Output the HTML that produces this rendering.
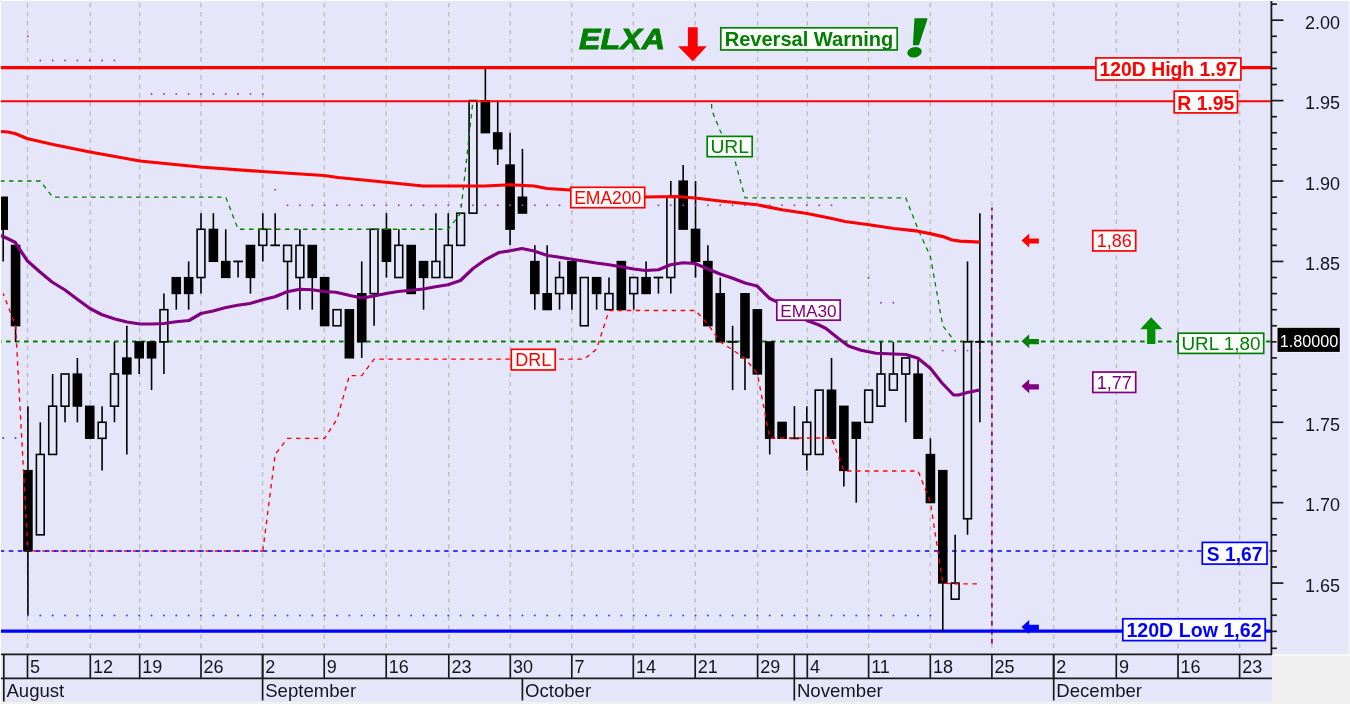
<!DOCTYPE html>
<html lang="en"><head><meta charset="utf-8"><title>ELXA chart</title>
<style>
html,body{margin:0;padding:0;background:#f0f0f0;}
body{width:1350px;height:704px;overflow:hidden;}
svg{display:block;font-family:"Liberation Sans",sans-serif;}
</style></head><body>
<svg width="1350" height="704" viewBox="0 0 1350 704">
<rect x="0" y="0" width="1350" height="704" fill="#f0f0f0"/>
<rect x="1" y="1" width="1347" height="701" fill="#e6e6fa"/>
<rect x="1272" y="654.5" width="78" height="50" fill="#f0f0f0"/>
<rect x="1272" y="654.3" width="78" height="1.6" fill="#fbfbfb"/>
<g stroke="#c0c0c0" stroke-width="1.5" stroke-dasharray="4.6 4.42" fill="none">
<path d="M27.5 2.9V652"/>
<path d="M90.3 2.9V652"/>
<path d="M139.7 2.9V652"/>
<path d="M201 2.9V652"/>
<path d="M262.6 2.9V652"/>
<path d="M324.2 2.9V652"/>
<path d="M386.2 2.9V652"/>
<path d="M448.8 2.9V652"/>
<path d="M510.3 2.9V652"/>
<path d="M571.8 2.9V652"/>
<path d="M633.3 2.9V652"/>
<path d="M695.2 2.9V652"/>
<path d="M757.6 2.9V652"/>
<path d="M807.3 2.9V652"/>
<path d="M868.6 2.9V652"/>
<path d="M930.3 2.9V652"/>
<path d="M991.9 2.9V652"/>
<path d="M1053.6 2.9V652"/>
<path d="M1116.3 2.9V652"/>
<path d="M1178 2.9V652"/>
<path d="M1239.6 2.9V652"/>
</g>
<path d="M991.9 207.4V646" stroke="#8c148c" stroke-width="1.9" stroke-dasharray="4.6 4.42" stroke-dashoffset="1.5"/>
<path d="M24.1 551H262.82" fill="none" stroke="#ff0000" stroke-width="1.6" stroke-dasharray="4.535 4.535"/>
<path d="M0 551H1271" stroke="#0000ff" stroke-width="1.6" stroke-dasharray="4.535 4.535" stroke-dashoffset="0.3"/>
<path d="M0 631.2H1271" stroke="#0000ff" stroke-width="3.2"/>
<path d="M0 341.6H1271" stroke="#008000" stroke-width="2" stroke-dasharray="4.6 4.4" stroke-dashoffset="3"/>
<g stroke="#000" stroke-width="1.6" fill="none">
<path d="M3.2 197.11V261.44"/>
<path d="M15.56 245.35V341.85"/>
<path d="M27.93 406.18V615.25"/>
<path d="M40.29 422.26V534.84"/>
<path d="M52.65 374.01V454.43"/>
<path d="M65.02 374.01V422.26"/>
<path d="M77.38 357.93V422.26"/>
<path d="M89.74 406.18V438.34"/>
<path d="M102.1 406.18V470.51"/>
<path d="M114.47 341.85V422.26"/>
<path d="M126.83 325.77V454.43"/>
<path d="M139.19 341.85V374.01"/>
<path d="M151.56 341.85V390.1"/>
<path d="M163.92 293.6V374.01"/>
<path d="M176.28 277.52V309.69"/>
<path d="M188.64 261.44V309.69"/>
<path d="M201.01 213.19V293.6"/>
<path d="M213.37 213.19V261.44"/>
<path d="M225.73 229.27V277.52"/>
<path d="M238.1 261.44V277.52"/>
<path d="M250.46 245.35V293.6"/>
<path d="M262.82 213.19V261.44"/>
<path d="M275.19 213.19V245.35"/>
<path d="M287.55 245.35V309.69"/>
<path d="M299.91 229.27V309.69"/>
<path d="M312.27 245.35V309.69"/>
<path d="M324.64 277.52V325.77"/>
<path d="M337 309.69V325.77"/>
<path d="M349.36 309.69V357.93"/>
<path d="M361.73 261.44V357.93"/>
<path d="M374.09 229.27V325.77"/>
<path d="M386.45 213.19V277.52"/>
<path d="M398.82 229.27V277.52"/>
<path d="M411.18 245.35V293.6"/>
<path d="M423.54 261.44V309.69"/>
<path d="M435.9 213.19V277.52"/>
<path d="M448.27 213.19V277.52"/>
<path d="M460.63 213.19V245.35"/>
<path d="M472.99 100.61V213.19"/>
<path d="M485.36 68.45V132.78"/>
<path d="M497.72 100.61V164.94"/>
<path d="M510.08 132.78V245.35"/>
<path d="M522.45 148.86V213.19"/>
<path d="M534.81 245.35V309.69"/>
<path d="M547.17 245.35V309.69"/>
<path d="M559.54 261.44V309.69"/>
<path d="M571.9 261.44V309.69"/>
<path d="M584.26 277.52V325.77"/>
<path d="M596.62 277.52V309.69"/>
<path d="M608.99 277.52V309.69"/>
<path d="M621.35 261.44V309.69"/>
<path d="M633.71 277.52V309.69"/>
<path d="M646.08 261.44V293.6"/>
<path d="M658.44 277.52V293.6"/>
<path d="M670.8 181.02V293.6"/>
<path d="M683.16 164.94V229.27"/>
<path d="M695.53 181.02V277.52"/>
<path d="M707.89 245.35V325.77"/>
<path d="M720.25 277.52V341.85"/>
<path d="M732.62 325.77V390.1"/>
<path d="M744.98 293.6V390.1"/>
<path d="M757.34 309.69V374.01"/>
<path d="M769.71 341.85V454.43"/>
<path d="M782.07 422.26V438.34"/>
<path d="M794.43 406.18V438.34"/>
<path d="M806.8 406.18V470.51"/>
<path d="M819.16 390.1V454.43"/>
<path d="M831.52 357.93V438.34"/>
<path d="M843.88 406.18V486.59"/>
<path d="M856.25 422.26V502.67"/>
<path d="M868.61 390.1V422.26"/>
<path d="M880.97 341.85V406.18"/>
<path d="M893.34 341.85V390.1"/>
<path d="M905.7 357.93V422.26"/>
<path d="M918.06 357.93V438.34"/>
<path d="M930.42 438.34V502.67"/>
<path d="M942.79 470.51V631.34"/>
<path d="M955.15 534.84V599.17"/>
<path d="M967.51 261.44V534.84"/>
<path d="M979.88 213.19V422.26"/>
</g>
<rect x="-1.6" y="196.51" width="9.6" height="33.36" fill="#000"/>
<rect x="10.76" y="244.75" width="9.6" height="81.61" fill="#000"/>
<rect x="23.13" y="469.91" width="9.6" height="81.61" fill="#000"/>
<rect x="36.39" y="454.43" width="7.8" height="80.41" fill="#e6e6fa" stroke="#000" stroke-width="1.6"/>
<rect x="48.75" y="406.18" width="7.8" height="48.25" fill="#e6e6fa" stroke="#000" stroke-width="1.6"/>
<rect x="61.12" y="374.01" width="7.8" height="32.17" fill="#e6e6fa" stroke="#000" stroke-width="1.6"/>
<rect x="72.58" y="373.41" width="9.6" height="33.37" fill="#000"/>
<rect x="84.94" y="405.58" width="9.6" height="33.36" fill="#000"/>
<rect x="98.2" y="422.26" width="7.8" height="16.08" fill="#e6e6fa" stroke="#000" stroke-width="1.6"/>
<rect x="110.57" y="374.01" width="7.8" height="32.17" fill="#e6e6fa" stroke="#000" stroke-width="1.6"/>
<rect x="122.03" y="357.33" width="9.6" height="17.28" fill="#000"/>
<rect x="134.39" y="341.25" width="9.6" height="17.28" fill="#000"/>
<rect x="146.76" y="341.25" width="9.6" height="17.28" fill="#000"/>
<rect x="160.02" y="309.69" width="7.8" height="32.16" fill="#e6e6fa" stroke="#000" stroke-width="1.6"/>
<rect x="171.48" y="276.92" width="9.6" height="17.28" fill="#000"/>
<rect x="183.84" y="276.92" width="9.6" height="17.28" fill="#000"/>
<rect x="197.11" y="229.27" width="7.8" height="48.25" fill="#e6e6fa" stroke="#000" stroke-width="1.6"/>
<rect x="208.57" y="228.67" width="9.6" height="33.37" fill="#000"/>
<rect x="220.93" y="260.84" width="9.6" height="17.28" fill="#000"/>
<path d="M233.3 261.44H242.9" stroke="#000" stroke-width="1.8"/>
<rect x="245.66" y="244.75" width="9.6" height="33.36" fill="#000"/>
<rect x="258.92" y="229.27" width="7.8" height="16.08" fill="#e6e6fa" stroke="#000" stroke-width="1.6"/>
<path d="M270.39 245.35H279.99" stroke="#000" stroke-width="1.8"/>
<rect x="283.65" y="245.35" width="7.8" height="16.08" fill="#e6e6fa" stroke="#000" stroke-width="1.6"/>
<rect x="296.01" y="245.35" width="7.8" height="32.16" fill="#e6e6fa" stroke="#000" stroke-width="1.6"/>
<rect x="307.47" y="244.75" width="9.6" height="33.36" fill="#000"/>
<rect x="319.84" y="276.92" width="9.6" height="49.45" fill="#000"/>
<rect x="333.1" y="309.69" width="7.8" height="16.08" fill="#e6e6fa" stroke="#000" stroke-width="1.6"/>
<rect x="344.56" y="309.08" width="9.6" height="49.45" fill="#000"/>
<rect x="356.93" y="293" width="9.6" height="49.45" fill="#000"/>
<rect x="370.19" y="229.27" width="7.8" height="64.33" fill="#e6e6fa" stroke="#000" stroke-width="1.6"/>
<rect x="381.65" y="228.67" width="9.6" height="33.37" fill="#000"/>
<rect x="394.92" y="245.35" width="7.8" height="32.16" fill="#e6e6fa" stroke="#000" stroke-width="1.6"/>
<rect x="406.38" y="244.75" width="9.6" height="49.45" fill="#000"/>
<rect x="418.74" y="260.84" width="9.6" height="17.28" fill="#000"/>
<rect x="432" y="261.44" width="7.8" height="16.08" fill="#e6e6fa" stroke="#000" stroke-width="1.6"/>
<rect x="444.37" y="245.35" width="7.8" height="32.16" fill="#e6e6fa" stroke="#000" stroke-width="1.6"/>
<rect x="456.73" y="213.19" width="7.8" height="32.16" fill="#e6e6fa" stroke="#000" stroke-width="1.6"/>
<rect x="469.09" y="100.61" width="7.8" height="112.58" fill="#e6e6fa" stroke="#000" stroke-width="1.6"/>
<rect x="480.56" y="100.01" width="9.6" height="33.37" fill="#000"/>
<rect x="492.92" y="132.18" width="9.6" height="17.28" fill="#000"/>
<rect x="505.28" y="164.34" width="9.6" height="65.53" fill="#000"/>
<rect x="517.65" y="196.51" width="9.6" height="17.28" fill="#000"/>
<rect x="530.01" y="260.84" width="9.6" height="33.36" fill="#000"/>
<rect x="542.37" y="293" width="9.6" height="17.28" fill="#000"/>
<rect x="555.64" y="277.52" width="7.8" height="16.08" fill="#e6e6fa" stroke="#000" stroke-width="1.6"/>
<rect x="567.1" y="260.84" width="9.6" height="33.36" fill="#000"/>
<rect x="580.36" y="277.52" width="7.8" height="48.25" fill="#e6e6fa" stroke="#000" stroke-width="1.6"/>
<rect x="591.82" y="276.92" width="9.6" height="17.28" fill="#000"/>
<rect x="605.09" y="293.6" width="7.8" height="16.08" fill="#e6e6fa" stroke="#000" stroke-width="1.6"/>
<rect x="616.55" y="260.84" width="9.6" height="49.45" fill="#000"/>
<rect x="629.81" y="277.52" width="7.8" height="16.08" fill="#e6e6fa" stroke="#000" stroke-width="1.6"/>
<rect x="641.28" y="276.92" width="9.6" height="17.28" fill="#000"/>
<path d="M653.64 277.52H663.24" stroke="#000" stroke-width="1.8"/>
<rect x="666.9" y="197.11" width="7.8" height="80.41" fill="#e6e6fa" stroke="#000" stroke-width="1.6"/>
<rect x="678.37" y="180.42" width="9.6" height="49.45" fill="#000"/>
<rect x="690.73" y="228.67" width="9.6" height="33.37" fill="#000"/>
<rect x="703.09" y="260.84" width="9.6" height="65.53" fill="#000"/>
<rect x="715.45" y="293" width="9.6" height="49.45" fill="#000"/>
<path d="M727.82 341.85H737.42" stroke="#000" stroke-width="1.8"/>
<rect x="740.18" y="293" width="9.6" height="65.53" fill="#000"/>
<rect x="752.54" y="309.08" width="9.6" height="65.53" fill="#000"/>
<rect x="764.91" y="341.25" width="9.6" height="97.7" fill="#000"/>
<rect x="777.27" y="421.66" width="9.6" height="17.28" fill="#000"/>
<path d="M789.63 438.34H799.23" stroke="#000" stroke-width="1.8"/>
<rect x="802.9" y="422.26" width="7.8" height="32.16" fill="#e6e6fa" stroke="#000" stroke-width="1.6"/>
<rect x="815.26" y="390.1" width="7.8" height="64.33" fill="#e6e6fa" stroke="#000" stroke-width="1.6"/>
<rect x="826.72" y="389.5" width="9.6" height="49.45" fill="#000"/>
<rect x="839.08" y="405.58" width="9.6" height="65.53" fill="#000"/>
<rect x="851.45" y="421.66" width="9.6" height="17.28" fill="#000"/>
<rect x="864.71" y="390.1" width="7.8" height="32.17" fill="#e6e6fa" stroke="#000" stroke-width="1.6"/>
<rect x="877.07" y="374.01" width="7.8" height="32.17" fill="#e6e6fa" stroke="#000" stroke-width="1.6"/>
<rect x="889.44" y="374.01" width="7.8" height="16.08" fill="#e6e6fa" stroke="#000" stroke-width="1.6"/>
<rect x="901.8" y="357.93" width="7.8" height="16.08" fill="#e6e6fa" stroke="#000" stroke-width="1.6"/>
<rect x="913.26" y="373.41" width="9.6" height="65.53" fill="#000"/>
<rect x="925.62" y="453.83" width="9.6" height="49.45" fill="#000"/>
<rect x="937.99" y="469.91" width="9.6" height="113.78" fill="#000"/>
<rect x="951.25" y="583.09" width="7.8" height="16.08" fill="#e6e6fa" stroke="#000" stroke-width="1.6"/>
<rect x="963.61" y="341.85" width="7.8" height="176.91" fill="#e6e6fa" stroke="#000" stroke-width="1.6"/>
<path d="M975.08 341.85H984.68" stroke="#000" stroke-width="1.8"/>
<polyline points="3.2,293.6 15.56,325.77 27.93,550.92" fill="none" stroke="#ff0000" stroke-width="1.35" stroke-dasharray="4.5 4.5" stroke-dashoffset="2"/>
<polyline points="262.82,550.92 275.19,454.43 287.55,438.34 299.91,438.34 312.27,438.34 324.64,438.34 337,419.05 349.36,375.62 361.73,375.62 374.09,359.06 386.45,359.06 398.82,359.06 411.18,359.06 423.54,359.06 435.9,359.06 448.27,359.06 460.63,359.06 472.99,359.06 485.36,359.06 497.72,359.06 510.08,359.06 522.45,359.06 534.81,359.06 547.17,359.06 559.54,359.06 571.9,359.06 584.26,359.06 596.62,349.09 608.99,310.49 621.35,310.49 633.71,310.49 646.08,310.49 658.44,310.49 670.8,310.49 683.16,310.49 695.53,310.49 707.89,324.16 720.25,341.85 732.62,349.89 744.98,358.41 757.34,373.53 769.71,438.02 782.07,438.02 794.43,438.02 806.8,438.02 819.16,438.02 831.52,438.02 843.88,470.99 856.25,470.99 868.61,470.99 880.97,470.99 893.34,470.99 905.7,470.99 918.06,470.99 930.42,502.19 942.79,583.09 955.15,583.89 967.51,583.89 979.88,583.89" fill="none" stroke="#ff0000" stroke-width="1.35" stroke-dasharray="4.5 4.5" stroke-dashoffset="0"/>
<polyline points="0,181.02 3.2,181.02 15.56,181.02 27.93,181.02 40.29,181.02 52.65,197.11 65.02,197.11 77.38,197.11 89.74,197.11 102.1,197.11 114.47,197.11 126.83,197.11 139.19,197.11 151.56,197.11 163.92,197.11 176.28,197.11 188.64,197.11 201.01,197.11 213.37,197.11 225.73,197.11 238.1,229.27 250.46,229.27 262.82,229.27 275.19,229.27 287.55,229.27 299.91,229.27 312.27,229.27 324.64,229.27 337,229.27 349.36,229.27 361.73,229.27 374.09,229.27 386.45,229.27 398.82,229.27 411.18,229.27 423.54,229.27 435.9,229.27 448.27,229.27 460.63,213.19 472.99,100.61" fill="none" stroke="#008000" stroke-width="1.3" stroke-dasharray="4.5 4.5"/>
<polyline points="711.6,104 711.7,110 720.25,131 732.6,152 745,197.8 757.34,197.8 769.71,197.8 782.07,197.8 794.43,197.8 806.8,197.8 819.16,197.8 831.52,197.8 843.88,197.8 856.25,197.8 868.61,197.8 880.97,197.8 893.34,197.8 905.7,197.8 918.06,229.27 930.42,256.61 942.79,325.77 955.15,341.85" fill="none" stroke="#008000" stroke-width="1.3" stroke-dasharray="4.5 4.5"/>
<path d="M0 67.6H1271" stroke="#ff0000" stroke-width="3.2"/>
<path d="M0 101.2H1271" stroke="#ff0000" stroke-width="1.9"/>
<polyline points="0,131.5 8,132 15,133.5 27,138.5 40,141.5 53,144.5 90,152 140,161 200,167 262,171.5 324,175.5 338,177.5 386,182.25 423,186 485,186 510,184.75 534,186 547,188.5 570,190 645,197 676,196.5 695,198 720,201 757,204.75 782,209.75 807,213.5 832,218.5 845,221.5 869,224.75 894,228.5 918,231.2 930,233.6 943,236.6 952,240 960,241.2 970,241.6 979.9,242.2" fill="none" stroke="#ff0000" stroke-width="3.2" stroke-linejoin="round"/>
<polyline points="0,235.5 3.2,236.5 15,242.25 27.5,261 40,272 52,282 65,290 77,299 90,308.5 102,314.75 115,319 127,322 140,324 152,324 164,323.5 176,321.75 189,320.5 201,313.5 213,311 225,307.75 237.5,305.25 250,303.5 262.5,299.75 275,296.75 287,291.75 300,289.25 312,289.75 324,291.5 336,292.25 350,295.5 362,298 374,296 386,293.5 398,291.5 411,290.25 423.5,289 435.5,286.75 448,284.75 460.5,280.5 473,268.5 486,259.3 499,252.5 510,250.8 522,248.5 534,251 547.5,255.5 559.75,257.25 571.75,259.25 583.5,261 596,263 609,264.75 621,266.75 633.5,269 645.5,270.5 658.5,269.75 670.5,264.75 683,262.75 695,263.5 708,269 720,274 732,278 745,283 757,286 769.75,298.5 782,304 794,310 807,320.5 819,325 826,328.5 838.5,338.5 848.5,346 861,350.25 876,353.25 906,354.5 918,358.25 930.25,368.25 942.25,383.25 953.5,395 958.5,395 967.25,392.5 979.9,390" fill="none" stroke="#800080" stroke-width="3.2" stroke-linejoin="round"/>
<circle cx="27.93" cy="36.5" r="0.95" fill="#a040a8"/>
<circle cx="40.29" cy="60.5" r="0.95" fill="#a040a8"/>
<circle cx="52.65" cy="60.5" r="0.95" fill="#a040a8"/>
<circle cx="65.02" cy="60.5" r="0.95" fill="#a040a8"/>
<circle cx="77.38" cy="60.5" r="0.95" fill="#a040a8"/>
<circle cx="89.74" cy="60.5" r="0.95" fill="#a040a8"/>
<circle cx="102.1" cy="60.5" r="0.95" fill="#a040a8"/>
<circle cx="114.47" cy="60.5" r="0.95" fill="#a040a8"/>
<circle cx="151.56" cy="94" r="0.95" fill="#a040a8"/>
<circle cx="163.92" cy="94" r="0.95" fill="#a040a8"/>
<circle cx="176.28" cy="94" r="0.95" fill="#a040a8"/>
<circle cx="188.64" cy="94" r="0.95" fill="#a040a8"/>
<circle cx="201.01" cy="94" r="0.95" fill="#a040a8"/>
<circle cx="213.37" cy="94" r="0.95" fill="#a040a8"/>
<circle cx="225.73" cy="94" r="0.95" fill="#a040a8"/>
<circle cx="238.1" cy="94" r="0.95" fill="#a040a8"/>
<circle cx="250.46" cy="94" r="0.95" fill="#a040a8"/>
<circle cx="262.82" cy="94" r="0.95" fill="#a040a8"/>
<circle cx="275.19" cy="189.75" r="0.95" fill="#a040a8"/>
<circle cx="287.55" cy="205.25" r="0.95" fill="#a040a8"/>
<circle cx="299.91" cy="205.25" r="0.95" fill="#a040a8"/>
<circle cx="312.27" cy="205.25" r="0.95" fill="#a040a8"/>
<circle cx="324.64" cy="205.25" r="0.95" fill="#a040a8"/>
<circle cx="337" cy="205.25" r="0.95" fill="#a040a8"/>
<circle cx="349.36" cy="205.25" r="0.95" fill="#a040a8"/>
<circle cx="361.73" cy="205.25" r="0.95" fill="#a040a8"/>
<circle cx="374.09" cy="205.25" r="0.95" fill="#a040a8"/>
<circle cx="386.45" cy="205.25" r="0.95" fill="#a040a8"/>
<circle cx="398.82" cy="205.25" r="0.95" fill="#a040a8"/>
<circle cx="411.18" cy="205.25" r="0.95" fill="#a040a8"/>
<circle cx="423.54" cy="205.25" r="0.95" fill="#a040a8"/>
<circle cx="435.9" cy="205.25" r="0.95" fill="#a040a8"/>
<circle cx="448.27" cy="205.25" r="0.95" fill="#a040a8"/>
<circle cx="460.63" cy="205.25" r="0.95" fill="#a040a8"/>
<circle cx="472.99" cy="205.25" r="0.95" fill="#a040a8"/>
<circle cx="485.36" cy="205.25" r="0.95" fill="#a040a8"/>
<circle cx="497.72" cy="205.25" r="0.95" fill="#a040a8"/>
<circle cx="510.08" cy="205.25" r="0.95" fill="#a040a8"/>
<circle cx="522.45" cy="205.25" r="0.95" fill="#a040a8"/>
<circle cx="534.81" cy="205.25" r="0.95" fill="#a040a8"/>
<circle cx="547.17" cy="205.25" r="0.95" fill="#a040a8"/>
<circle cx="559.54" cy="205.25" r="0.95" fill="#a040a8"/>
<circle cx="571.9" cy="205.25" r="0.95" fill="#a040a8"/>
<circle cx="584.26" cy="205.25" r="0.95" fill="#a040a8"/>
<circle cx="596.62" cy="205.25" r="0.95" fill="#a040a8"/>
<circle cx="608.99" cy="205.25" r="0.95" fill="#a040a8"/>
<circle cx="621.35" cy="205.25" r="0.95" fill="#a040a8"/>
<circle cx="633.71" cy="205.25" r="0.95" fill="#a040a8"/>
<circle cx="658.44" cy="205.25" r="0.95" fill="#a040a8"/>
<circle cx="670.8" cy="205.25" r="0.95" fill="#a040a8"/>
<circle cx="683.16" cy="205.25" r="0.95" fill="#a040a8"/>
<circle cx="695.53" cy="205.25" r="0.95" fill="#a040a8"/>
<circle cx="707.89" cy="205.25" r="0.95" fill="#a040a8"/>
<circle cx="720.25" cy="205.25" r="0.95" fill="#a040a8"/>
<circle cx="732.62" cy="205.25" r="0.95" fill="#a040a8"/>
<circle cx="744.98" cy="205.25" r="0.95" fill="#a040a8"/>
<circle cx="757.34" cy="205.25" r="0.95" fill="#a040a8"/>
<circle cx="769.71" cy="205.25" r="0.95" fill="#a040a8"/>
<circle cx="782.07" cy="205.25" r="0.95" fill="#a040a8"/>
<circle cx="794.43" cy="205.25" r="0.95" fill="#a040a8"/>
<circle cx="806.8" cy="205.25" r="0.95" fill="#a040a8"/>
<circle cx="819.16" cy="205.25" r="0.95" fill="#a040a8"/>
<circle cx="831.52" cy="205.25" r="0.95" fill="#a040a8"/>
<circle cx="868.61" cy="278" r="0.95" fill="#a040a8"/>
<circle cx="880.97" cy="302.75" r="0.95" fill="#a040a8"/>
<circle cx="893.34" cy="302.75" r="0.95" fill="#a040a8"/>
<circle cx="905.7" cy="341.5" r="0.95" fill="#a040a8"/>
<circle cx="942.79" cy="350.6" r="0.95" fill="#a040a8"/>
<circle cx="955.15" cy="350.6" r="0.95" fill="#a040a8"/>
<circle cx="967.51" cy="350.6" r="0.95" fill="#a040a8"/>
<circle cx="979.88" cy="350.6" r="0.95" fill="#a040a8"/>
<circle cx="3.2" cy="438" r="0.95" fill="#3838ff"/>
<circle cx="15.56" cy="438" r="0.95" fill="#3838ff"/>
<circle cx="27.93" cy="615.5" r="0.95" fill="#3838ff"/>
<circle cx="40.29" cy="615.5" r="0.95" fill="#3838ff"/>
<circle cx="52.65" cy="615.5" r="0.95" fill="#3838ff"/>
<circle cx="65.02" cy="615.5" r="0.95" fill="#3838ff"/>
<circle cx="77.38" cy="615.5" r="0.95" fill="#3838ff"/>
<circle cx="89.74" cy="615.5" r="0.95" fill="#3838ff"/>
<circle cx="102.1" cy="615.5" r="0.95" fill="#3838ff"/>
<circle cx="114.47" cy="615.5" r="0.95" fill="#3838ff"/>
<circle cx="126.83" cy="615.5" r="0.95" fill="#3838ff"/>
<circle cx="139.19" cy="615.5" r="0.95" fill="#3838ff"/>
<circle cx="151.56" cy="615.5" r="0.95" fill="#3838ff"/>
<circle cx="163.92" cy="615.5" r="0.95" fill="#3838ff"/>
<circle cx="176.28" cy="615.5" r="0.95" fill="#3838ff"/>
<circle cx="188.64" cy="615.5" r="0.95" fill="#3838ff"/>
<circle cx="201.01" cy="615.5" r="0.95" fill="#3838ff"/>
<circle cx="213.37" cy="615.5" r="0.95" fill="#3838ff"/>
<circle cx="225.73" cy="615.5" r="0.95" fill="#3838ff"/>
<circle cx="238.1" cy="615.5" r="0.95" fill="#3838ff"/>
<circle cx="250.46" cy="615.5" r="0.95" fill="#3838ff"/>
<circle cx="262.82" cy="615.5" r="0.95" fill="#3838ff"/>
<circle cx="275.19" cy="615.5" r="0.95" fill="#3838ff"/>
<circle cx="287.55" cy="615.5" r="0.95" fill="#3838ff"/>
<circle cx="299.91" cy="615.5" r="0.95" fill="#3838ff"/>
<circle cx="312.27" cy="615.5" r="0.95" fill="#3838ff"/>
<circle cx="324.64" cy="615.5" r="0.95" fill="#3838ff"/>
<circle cx="337" cy="615.5" r="0.95" fill="#3838ff"/>
<circle cx="349.36" cy="615.5" r="0.95" fill="#3838ff"/>
<circle cx="361.73" cy="615.5" r="0.95" fill="#3838ff"/>
<circle cx="374.09" cy="615.5" r="0.95" fill="#3838ff"/>
<circle cx="386.45" cy="615.5" r="0.95" fill="#3838ff"/>
<circle cx="398.82" cy="615.5" r="0.95" fill="#3838ff"/>
<circle cx="411.18" cy="615.5" r="0.95" fill="#3838ff"/>
<circle cx="423.54" cy="615.5" r="0.95" fill="#3838ff"/>
<circle cx="435.9" cy="615.5" r="0.95" fill="#3838ff"/>
<circle cx="448.27" cy="615.5" r="0.95" fill="#3838ff"/>
<circle cx="460.63" cy="615.5" r="0.95" fill="#3838ff"/>
<circle cx="472.99" cy="615.5" r="0.95" fill="#3838ff"/>
<circle cx="485.36" cy="615.5" r="0.95" fill="#3838ff"/>
<circle cx="497.72" cy="615.5" r="0.95" fill="#3838ff"/>
<circle cx="510.08" cy="615.5" r="0.95" fill="#3838ff"/>
<circle cx="522.45" cy="615.5" r="0.95" fill="#3838ff"/>
<circle cx="534.81" cy="615.5" r="0.95" fill="#3838ff"/>
<circle cx="547.17" cy="615.5" r="0.95" fill="#3838ff"/>
<circle cx="559.54" cy="615.5" r="0.95" fill="#3838ff"/>
<circle cx="571.9" cy="615.5" r="0.95" fill="#3838ff"/>
<circle cx="584.26" cy="615.5" r="0.95" fill="#3838ff"/>
<circle cx="596.62" cy="615.5" r="0.95" fill="#3838ff"/>
<circle cx="608.99" cy="615.5" r="0.95" fill="#3838ff"/>
<circle cx="621.35" cy="615.5" r="0.95" fill="#3838ff"/>
<circle cx="633.71" cy="615.5" r="0.95" fill="#3838ff"/>
<circle cx="646.08" cy="615.5" r="0.95" fill="#3838ff"/>
<circle cx="658.44" cy="615.5" r="0.95" fill="#3838ff"/>
<circle cx="670.8" cy="615.5" r="0.95" fill="#3838ff"/>
<circle cx="683.16" cy="615.5" r="0.95" fill="#3838ff"/>
<circle cx="695.53" cy="615.5" r="0.95" fill="#3838ff"/>
<circle cx="707.89" cy="615.5" r="0.95" fill="#3838ff"/>
<circle cx="720.25" cy="615.5" r="0.95" fill="#3838ff"/>
<circle cx="732.62" cy="615.5" r="0.95" fill="#3838ff"/>
<circle cx="744.98" cy="615.5" r="0.95" fill="#3838ff"/>
<circle cx="757.34" cy="615.5" r="0.95" fill="#3838ff"/>
<circle cx="769.71" cy="615.5" r="0.95" fill="#3838ff"/>
<circle cx="782.07" cy="615.5" r="0.95" fill="#3838ff"/>
<circle cx="794.43" cy="615.5" r="0.95" fill="#3838ff"/>
<circle cx="806.8" cy="615.5" r="0.95" fill="#3838ff"/>
<circle cx="819.16" cy="615.5" r="0.95" fill="#3838ff"/>
<circle cx="831.52" cy="615.5" r="0.95" fill="#3838ff"/>
<circle cx="843.88" cy="615.5" r="0.95" fill="#3838ff"/>
<circle cx="856.25" cy="615.5" r="0.95" fill="#3838ff"/>
<circle cx="868.61" cy="615.5" r="0.95" fill="#3838ff"/>
<circle cx="880.97" cy="615.5" r="0.95" fill="#3838ff"/>
<circle cx="893.34" cy="615.5" r="0.95" fill="#3838ff"/>
<circle cx="905.7" cy="615.5" r="0.95" fill="#3838ff"/>
<circle cx="918.06" cy="615.5" r="0.95" fill="#3838ff"/>
<circle cx="930.42" cy="615.5" r="0.95" fill="#3838ff"/>
<path d="M1021.5 240.5L1029.2 233.5V238.4H1038.9V243.6H1029.2V247.5Z" fill="#ff0000"/>
<path d="M1021.5 341.2L1029.2 334.2V339.1H1038.9V344.3H1029.2V348.2Z" fill="#008000"/>
<path d="M1021.5 386.3L1029.2 379.3V384.2H1038.9V389.4H1029.2V393.3Z" fill="#800080"/>
<path d="M1021.5 626.9L1029.2 619.9V624.8H1038.9V630H1029.2V633.9Z" fill="#0000ff"/>
<path d="M687.9 27.2H697.7V46.3H706.8L692.8 61.2L678 46.3H687.9Z" fill="#ff0000"/>
<path d="M1151.2 317.3L1162.4 329.2H1155.4V344H1147.1V329.2H1140.1Z" fill="#009000"/>
<rect x="707.2" y="136.4" width="45" height="20.3" fill="#fff" stroke="#008000" stroke-width="1.7"/>
<text x="729.7" y="152.9" text-anchor="middle" font-size="18" textLength="38.6" lengthAdjust="spacingAndGlyphs" fill="#008000">URL</text>
<rect x="570.8" y="187.3" width="73.9" height="20.4" fill="#fff" stroke="#ff0000" stroke-width="1.7"/>
<text x="607.75" y="203.8" text-anchor="middle" font-size="17.5" fill="#ff0000">EMA200</text>
<rect x="776.8" y="300.05" width="63.4" height="20.15" fill="#fff" stroke="#800080" stroke-width="1.7"/>
<text x="808.5" y="316.55" text-anchor="middle" font-size="17.2" fill="#800080">EMA30</text>
<rect x="511.3" y="349.3" width="43.9" height="20.65" fill="#fff" stroke="#ff0000" stroke-width="1.7"/>
<text x="533.25" y="365.8" text-anchor="middle" font-size="18" fill="#ff0000">DRL</text>
<rect x="1092.8" y="230.55" width="42.9" height="20.4" fill="#fff" stroke="#ff0000" stroke-width="1.7"/>
<text x="1114.25" y="247.05" text-anchor="middle" font-size="18" fill="#ff0000">1,86</text>
<rect x="1092.8" y="372.05" width="42.9" height="20.4" fill="#fff" stroke="#800080" stroke-width="1.7"/>
<text x="1114.25" y="388.55" text-anchor="middle" font-size="18" fill="#800080">1,77</text>
<rect x="1178.1" y="333.2" width="85.6" height="20.2" fill="#fff" stroke="#008000" stroke-width="1.7"/>
<text x="1220.9" y="349.7" text-anchor="middle" font-size="18" textLength="79" lengthAdjust="spacingAndGlyphs" fill="#008000">URL 1,80</text>
<rect x="1202.3" y="542.4" width="64.7" height="21.7" fill="#fff" stroke="#0000ff" stroke-width="1.7"/>
<text x="1234.65" y="560.8" text-anchor="middle" font-size="19.6" font-weight="bold" textLength="55.6" lengthAdjust="spacingAndGlyphs" fill="#0000ff">S 1,67</text>
<rect x="1122.8" y="618.8" width="142.4" height="21.8" fill="#fff" stroke="#0000ff" stroke-width="1.7"/>
<text x="1194" y="637.2" text-anchor="middle" font-size="19.6" font-weight="bold" textLength="135.2" lengthAdjust="spacingAndGlyphs" fill="#0000ff">120D Low 1,62</text>
<rect x="1095.9" y="57.9" width="145" height="22.1" fill="#fff" stroke="#ff0000" stroke-width="1.7"/>
<text x="1168.4" y="76.3" text-anchor="middle" font-size="19.6" font-weight="bold" textLength="137.6" lengthAdjust="spacingAndGlyphs" fill="#ff0000">120D High 1.97</text>
<rect x="1174.2" y="91.1" width="63.3" height="21.8" fill="#fff" stroke="#ff0000" stroke-width="1.7"/>
<text x="1205.85" y="109.5" text-anchor="middle" font-size="19.6" font-weight="bold" textLength="57" lengthAdjust="spacingAndGlyphs" fill="#ff0000">R 1.95</text>
<rect x="720.8" y="27.8" width="176.4" height="22.15" fill="#fff" stroke="#008000" stroke-width="1.7"/>
<text x="809" y="46.3" text-anchor="middle" font-size="19.5" font-weight="bold" textLength="168.6" lengthAdjust="spacingAndGlyphs" fill="#008000">Reversal Warning</text>
<text x="579" y="49.4" font-size="29.4" font-weight="bold" font-style="italic" fill="#008000" stroke="#008000" stroke-width="0.9" textLength="86" lengthAdjust="spacingAndGlyphs">ELXA</text>
<text transform="translate(901.2,55.6) skewX(-11) scale(1.34,1)" font-size="56.5" font-weight="bold" font-family="Liberation Serif, serif" fill="#008000" stroke="#008000" stroke-width="1.5" stroke-linejoin="round">!</text>
<path d="M1271.4 1V654.4" stroke="#1a1a1a" stroke-width="1.8"/>
<g stroke="#1a1a1a" stroke-width="1.7">
<path d="M1271.4 648.3h5.5"/>
<path d="M1271.4 631.34h5.5"/>
<path d="M1271.4 615.25h5.5"/>
<path d="M1271.4 599.17h5.5"/>
<path d="M1271.4 583.09h12"/>
<path d="M1271.4 567h5.5"/>
<path d="M1271.4 550.92h5.5"/>
<path d="M1271.4 534.84h5.5"/>
<path d="M1271.4 518.76h5.5"/>
<path d="M1271.4 502.67h12"/>
<path d="M1271.4 486.59h5.5"/>
<path d="M1271.4 470.51h5.5"/>
<path d="M1271.4 454.43h5.5"/>
<path d="M1271.4 438.34h5.5"/>
<path d="M1271.4 422.26h12"/>
<path d="M1271.4 406.18h5.5"/>
<path d="M1271.4 390.1h5.5"/>
<path d="M1271.4 374.01h5.5"/>
<path d="M1271.4 357.93h5.5"/>
<path d="M1271.4 341.85h12"/>
<path d="M1271.4 325.77h5.5"/>
<path d="M1271.4 309.69h5.5"/>
<path d="M1271.4 293.6h5.5"/>
<path d="M1271.4 277.52h5.5"/>
<path d="M1271.4 261.44h12"/>
<path d="M1271.4 245.35h5.5"/>
<path d="M1271.4 229.27h5.5"/>
<path d="M1271.4 213.19h5.5"/>
<path d="M1271.4 197.11h5.5"/>
<path d="M1271.4 181.02h12"/>
<path d="M1271.4 164.94h5.5"/>
<path d="M1271.4 148.86h5.5"/>
<path d="M1271.4 132.78h5.5"/>
<path d="M1271.4 116.7h5.5"/>
<path d="M1271.4 100.61h12"/>
<path d="M1271.4 84.53h5.5"/>
<path d="M1271.4 68.45h5.5"/>
<path d="M1271.4 52.36h5.5"/>
<path d="M1271.4 36.28h5.5"/>
<path d="M1271.4 20.2h12"/>
<path d="M1271.4 4.12h5.5"/>
</g>
<text x="1340" y="29" text-anchor="end" font-size="18" fill="#15151f">2.00</text>
<text x="1340" y="109.41" text-anchor="end" font-size="18" fill="#15151f">1.95</text>
<text x="1340" y="189.82" text-anchor="end" font-size="18" fill="#15151f">1.90</text>
<text x="1340" y="270.24" text-anchor="end" font-size="18" fill="#15151f">1.85</text>
<text x="1340" y="431.06" text-anchor="end" font-size="18" fill="#15151f">1.75</text>
<text x="1340" y="511.47" text-anchor="end" font-size="18" fill="#15151f">1.70</text>
<text x="1340" y="591.89" text-anchor="end" font-size="18" fill="#15151f">1.65</text>
<rect x="1276.6" y="326.9" width="64" height="25.8" fill="#f4f4fb"/>
<rect x="1277.5" y="327.8" width="62.3" height="24.1" fill="#000"/>
<text x="1308.9" y="346.5" text-anchor="middle" font-size="16.2" fill="#fff">1.80000</text>
<g stroke="#1a1a1a" stroke-width="1.7" fill="none">
<path d="M1 654.4H1272"/><path d="M0 678.4H1272"/>
<path d="M3.8 654.4V701.5"/>
<path d="M27.5 654.4V678.4"/>
<path d="M90.3 654.4V678.4"/>
<path d="M139.7 654.4V678.4"/>
<path d="M201 654.4V678.4"/>
<path d="M262.6 654.4V678.4"/>
<path d="M324.2 654.4V678.4"/>
<path d="M386.2 654.4V678.4"/>
<path d="M448.8 654.4V678.4"/>
<path d="M510.3 654.4V678.4"/>
<path d="M571.8 654.4V678.4"/>
<path d="M633.3 654.4V678.4"/>
<path d="M695.2 654.4V678.4"/>
<path d="M757.6 654.4V678.4"/>
<path d="M807.3 654.4V678.4"/>
<path d="M868.6 654.4V678.4"/>
<path d="M930.3 654.4V678.4"/>
<path d="M991.9 654.4V678.4"/>
<path d="M1053.6 654.4V678.4"/>
<path d="M1116.3 654.4V678.4"/>
<path d="M1178 654.4V678.4"/>
<path d="M1239.6 654.4V678.4"/>
<path d="M262.6 654.4V700.5"/>
<path d="M522.4 678.4V700.5"/>
<path d="M794.3 654.4V700.5"/>
<path d="M1053.7 654.4V700.5"/>
</g>
<text x="30.1" y="673" font-size="18" fill="#15151f">5</text>
<text x="92.9" y="673" font-size="18" fill="#15151f">12</text>
<text x="142.3" y="673" font-size="18" fill="#15151f">19</text>
<text x="203.6" y="673" font-size="18" fill="#15151f">26</text>
<text x="265.2" y="673" font-size="18" fill="#15151f">2</text>
<text x="326.8" y="673" font-size="18" fill="#15151f">9</text>
<text x="388.8" y="673" font-size="18" fill="#15151f">16</text>
<text x="451.4" y="673" font-size="18" fill="#15151f">23</text>
<text x="512.9" y="673" font-size="18" fill="#15151f">30</text>
<text x="574.4" y="673" font-size="18" fill="#15151f">7</text>
<text x="635.9" y="673" font-size="18" fill="#15151f">14</text>
<text x="697.8" y="673" font-size="18" fill="#15151f">21</text>
<text x="760.2" y="673" font-size="18" fill="#15151f">29</text>
<text x="809.9" y="673" font-size="18" fill="#15151f">4</text>
<text x="871.2" y="673" font-size="18" fill="#15151f">11</text>
<text x="932.9" y="673" font-size="18" fill="#15151f">18</text>
<text x="994.5" y="673" font-size="18" fill="#15151f">25</text>
<text x="1056.2" y="673" font-size="18" fill="#15151f">2</text>
<text x="1118.9" y="673" font-size="18" fill="#15151f">9</text>
<text x="1180.6" y="673" font-size="18" fill="#15151f">16</text>
<text x="1242.2" y="673" font-size="18" fill="#15151f">23</text>
<text x="6.4" y="697" font-size="18.6" fill="#15151f">August</text>
<text x="265.2" y="697" font-size="18.6" fill="#15151f">September</text>
<text x="525" y="697" font-size="18.6" fill="#15151f">October</text>
<text x="796.9" y="697" font-size="18.6" fill="#15151f">November</text>
<text x="1056.3" y="697" font-size="18.6" fill="#15151f">December</text>
<rect x="0" y="0" width="1350" height="1" fill="#ffffff"/><rect x="0" y="0" width="1" height="704" fill="#ffffff"/>
</svg>
</body></html>
